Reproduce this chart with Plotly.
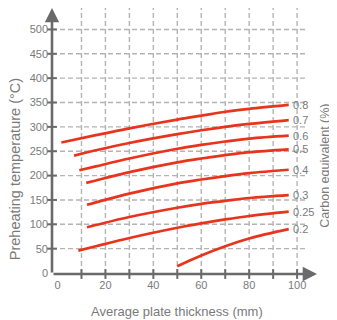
import plotly.graph_objects as go

# ---- data ----
carbon_labels = ["0.8", "0.7", "0.6", "0.5", "0.4", "0.3", "0.25", "0.2"]

thk_08 = [1.6, 16, 30, 50, 60, 70, 80, 96.5]
tmp_08 = [268, 283, 297, 315, 323, 331, 337, 345]

thk_07 = [6.9, 16, 30, 50, 60, 70, 80, 96.5]
tmp_07 = [241, 252, 267, 285, 293, 300, 306, 314]

thk_06 = [9.1, 16, 30, 50, 60, 70, 80, 96.5]
tmp_06 = [211, 219, 235, 255, 263, 270, 276, 282]

thk_05 = [12, 16, 30, 50, 60, 70, 80, 96.5]
tmp_05 = [185, 190, 207, 227, 235, 242, 248, 254]

thk_04 = [12.3, 16, 30, 50, 60, 70, 80, 96.5]
tmp_04 = [140, 145, 163, 184, 192, 199, 205, 212]

thk_03 = [12.3, 16, 30, 50, 60, 70, 80, 96.5]
tmp_03 = [94, 98.5, 115, 134, 142, 148, 154, 160]

thk_025 = [8.7, 16, 30, 50, 60, 70, 80, 96.5]
tmp_025 = [46, 55, 72, 93, 102, 110, 117, 126]

thk_02 = [50, 60, 70, 80, 96.5]
tmp_02 = [14, 36, 55, 71, 90]

x_label_vals = [0, 20, 40, 60, 80, 100]
x_grid_vals = [10, 20, 30, 40, 50, 60, 70, 80, 90, 100]
y_label_vals = [0, 50, 100, 150, 200, 250, 300, 350, 400, 450, 500]
y_grid_vals = [50, 100, 150, 200, 250, 300, 350, 400, 450, 500]

x_title = "Average plate thickness (mm)"
y_title = "Preheating temperature (°C)"
y2_title = "Carbon equivalent (%)"

# ---- styling ----
RED = "#e8341c"
AXIS = "#6a6a6a"
GRID = "#b4b4b4"
TXT = "#7a7a7a"
FONT = "Liberation Sans, Arial, sans-serif"

X_MIN, X_MAX = -2.3, 108.3
Y_MIN, Y_MAX = -2, 544
GRID_X_END = 104.5

curves = [
    (thk_08, tmp_08), (thk_07, tmp_07), (thk_06, tmp_06), (thk_05, tmp_05),
    (thk_04, tmp_04), (thk_03, tmp_03), (thk_025, tmp_025), (thk_02, tmp_02),
]

fig = go.Figure()

for (xs, ys), lab in zip(curves, carbon_labels):
    fig.add_trace(go.Scatter(
        x=xs, y=ys, mode="lines", name=lab,
        line=dict(color=RED, width=2.7, shape="spline", smoothing=1.0),
        hoverinfo="skip", showlegend=False,
    ))
    fig.add_annotation(
        x=xs[-1], y=ys[-1], xref="x", yref="y", text=lab, showarrow=False,
        xanchor="left", yanchor="middle", xshift=2,
        font=dict(family=FONT, size=11, color=TXT),
    )

# gridlines (dashed)
for gx in x_grid_vals:
    fig.add_shape(type="line", xref="x", yref="y", x0=gx, x1=gx, y0=Y_MIN, y1=Y_MAX,
                  line=dict(color=GRID, width=1.4, dash="5px,3px"), layer="below")
for gy in y_grid_vals:
    fig.add_shape(type="line", xref="x", yref="y", x0=X_MIN, x1=GRID_X_END, y0=gy, y1=gy,
                  line=dict(color=GRID, width=1.4, dash="5px,3px"), layer="below")

# tick marks crossing the axes
fig.add_trace(go.Scatter(
    x=x_grid_vals, y=[Y_MIN] * len(x_grid_vals), mode="markers",
    marker=dict(symbol="line-ns", size=7, line=dict(color=AXIS, width=2)),
    cliponaxis=False, hoverinfo="skip", showlegend=False,
))
fig.add_trace(go.Scatter(
    x=[X_MIN] * len(y_grid_vals), y=y_grid_vals, mode="markers",
    marker=dict(symbol="line-ew", size=7, line=dict(color=AXIS, width=2)),
    cliponaxis=False, hoverinfo="skip", showlegend=False,
))

# axis arrows
fig.add_annotation(x=X_MAX, y=Y_MIN, ax=X_MIN, ay=Y_MIN, xref="x", yref="y",
                   axref="x", ayref="y", text="", showarrow=True, arrowhead=2,
                   arrowsize=1.1, arrowwidth=2.6, arrowcolor=AXIS)
fig.add_annotation(x=X_MIN, y=Y_MAX, ax=X_MIN, ay=Y_MIN, xref="x", yref="y",
                   axref="x", ayref="y", text="", showarrow=True, arrowhead=2,
                   arrowsize=1.1, arrowwidth=2.6, arrowcolor=AXIS)

# titles
fig.add_annotation(x=50, y=0, xref="x", yref="paper", xanchor="center",
                   yanchor="middle", yshift=-37,
                   text=x_title, showarrow=False,
                   font=dict(family=FONT, size=13, color=TXT))
fig.add_annotation(x=0, y=212, xref="paper", yref="y", xanchor="center",
                   yanchor="middle", xshift=-37.5,
                   text=y_title, showarrow=False, textangle=-90,
                   font=dict(family=FONT, size=14.5, color=TXT))
fig.add_annotation(x=1, y=220, xref="paper", yref="y", xanchor="center",
                   yanchor="middle", xshift=8,
                   text=y2_title, showarrow=False, textangle=-90,
                   font=dict(family=FONT, size=12.5, color=TXT))

fig.update_xaxes(range=[X_MIN, X_MAX], tickvals=x_label_vals,
                 ticktext=[str(v) for v in x_label_vals],
                 showgrid=False, zeroline=False, showline=False, ticks="",
                 ticklabelstandoff=3,
                 tickfont=dict(family=FONT, size=11, color=TXT))
fig.update_yaxes(range=[Y_MIN, Y_MAX], tickvals=y_label_vals,
                 ticktext=[str(v) for v in y_label_vals],
                 showgrid=False, zeroline=False, showline=False, ticks="",
                 ticklabelstandoff=3,
                 tickfont=dict(family=FONT, size=11, color=TXT))

# the page body adds an 8px offset, so the figure is sized/margined to compensate
fig.update_layout(
    width=329, height=312,
    margin=dict(l=44, r=20, t=0, b=46),
    plot_bgcolor="white", paper_bgcolor="white",
    showlegend=False,
)

fig.write_html("out.html")
